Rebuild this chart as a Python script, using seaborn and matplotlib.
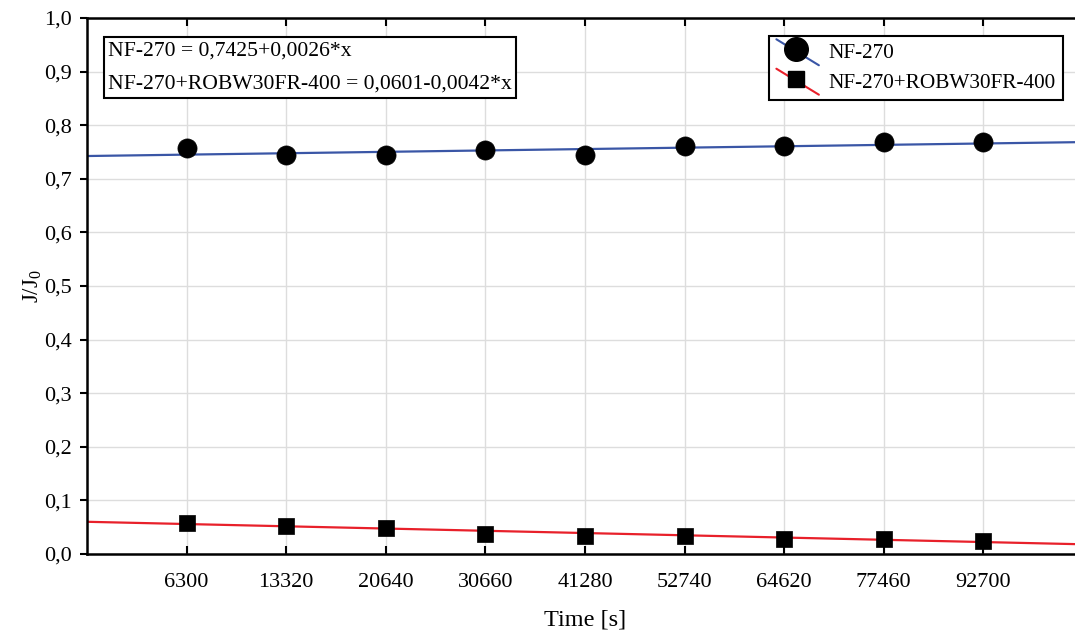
import matplotlib
matplotlib.use("Agg")
import matplotlib.pyplot as plt
import seaborn as sns
import numpy as np
import pandas as pd
from matplotlib.lines import Line2D
from matplotlib.legend_handler import HandlerBase
from matplotlib.ticker import FuncFormatter

# ---- data ----
time_labels = ["6300", "13320", "20640", "30660", "41280", "52740", "64620", "77460", "92700"]
nf270 = [0.757, 0.745, 0.745, 0.753, 0.745, 0.761, 0.761, 0.769, 0.769]
nf270_robw = [0.058, 0.053, 0.049, 0.037, 0.033, 0.033, 0.028, 0.028, 0.024]
series_names = ["NF-270", "NF-270+ROBW30FR-400"]
intercepts = [0.7425, 0.0601]
slopes = [0.0026, -0.0042]
equations = ["NF-270 = 0,7425+0,0026*x", "NF-270+ROBW30FR-400 = 0,0601-0,0042*x"]

sns.set_theme(style="white")
plt.rcParams["font.family"] = ["Liberation Serif", "DejaVu Serif"]
plt.rcParams["mathtext.fontset"] = "custom"
plt.rcParams["mathtext.rm"] = "Liberation Serif"
plt.rcParams["mathtext.it"] = "Liberation Serif"
for k in ["text.color", "axes.labelcolor", "xtick.color", "ytick.color"]:
    plt.rcParams[k] = "black"

fig = plt.figure(figsize=(10.75, 6.32), dpi=100)
ax = fig.add_axes([87 / 1075, 1 - 554 / 632, 996 / 1075, (554 - 18) / 632])

pos = np.arange(1, len(time_labels) + 1)
df = pd.DataFrame({
    "pos": np.concatenate([pos, pos]),
    "val": nf270 + nf270_robw,
    "series": [series_names[0]] * len(pos) + [series_names[1]] * len(pos),
})

line_colors = ["#3a56a6", "#e8202a"]
xfit = np.array([0.0, 10.0])
for i, name in enumerate(series_names):
    yfit = intercepts[i] + slopes[i] * xfit
    sns.lineplot(x=xfit, y=yfit, ax=ax, color=line_colors[i], lw=1.6, legend=False, zorder=2)

sns.scatterplot(data=df[df.series == series_names[0]], x="pos", y="val", ax=ax,
                marker="o", s=190, color="black", edgecolor="black", linewidth=0.5,
                legend=False, zorder=3)
sns.scatterplot(data=df[df.series == series_names[1]], x="pos", y="val", ax=ax,
                marker="s", s=130, color="black", edgecolor="black", linewidth=0.5,
                legend=False, zorder=3)

ax.set_xlim(0, 10)
ax.set_ylim(0, 1.0)
ax.set_xticks(pos)
ax.set_xticklabels(time_labels)
ax.set_yticks(np.arange(0, 1.01, 0.1))
ax.yaxis.set_major_formatter(FuncFormatter(lambda v, p: f"{v:.1f}".replace(".", ",")))
ax.grid(True, color="#dddddd", lw=1)
ax.set_axisbelow(True)
for s in ["left", "bottom", "top"]:
    ax.spines[s].set_color("black")
    ax.spines[s].set_linewidth(1.8)
ax.spines["right"].set_visible(False)

ax.tick_params(axis="x", direction="in", length=6, width=1.5, top=True, bottom=True,
               labelsize=16, pad=14, colors="black")
ax.tick_params(axis="y", direction="out", length=5, width=1.5, left=True,
               labelsize=16, pad=6, colors="black")
ax.set_xlabel("Time [s]", fontsize=17.5)
ax.set_ylabel("J/J$_0$", fontsize=16.5)
ax.xaxis.set_label_coords(0.5, -(620 - 554) / 536, transform=ax.transAxes)
ax.xaxis.label.set_va("center")
ax.yaxis.set_label_coords(-(87 - 33) / 996, 0.5, transform=ax.transAxes)
ax.yaxis.label.set_va("center")

# equation box
ax.annotate("\n".join(equations), xy=(108 / 1075, 1 - 67.5 / 632), xycoords="figure fraction",
            ha="left", va="center", fontsize=15.6, linespacing=2.05,
            bbox=dict(boxstyle="square,pad=0.2", fc="white", ec="black", lw=1.5))


class DiagHandler(HandlerBase):
    def __init__(self, color, marker, ms):
        super().__init__()
        self.color, self.marker, self.ms = color, marker, ms

    def create_artists(self, legend, orig_handle, xdescent, ydescent, width, height, fontsize, trans):
        l = Line2D([0, width], [height + 3, -5], color=self.color, lw=1.5, transform=trans)
        m = Line2D([width * 0.45], [height / 2 + 1], marker=self.marker, color="black", ms=self.ms,
                   ls="none", transform=trans)
        return [l, m]


h1 = Line2D([], [], color=line_colors[0])
h2 = Line2D([], [], color=line_colors[1])
leg = ax.legend([h1, h2], series_names, loc="upper right", bbox_to_anchor=(1063 / 1075, 1 - 36 / 632),
                bbox_transform=fig.transFigure, fontsize=15.3, frameon=True, fancybox=False,
                edgecolor="black", framealpha=1, borderpad=0.35, handlelength=2.0, handletextpad=0.45,
                labelspacing=0.45, borderaxespad=0,
                handler_map={h1: DiagHandler(line_colors[0], "o", 17),
                             h2: DiagHandler(line_colors[1], "s", 12)})
leg.get_frame().set_linewidth(1.5)

fig.savefig("out.png", dpi=100)
